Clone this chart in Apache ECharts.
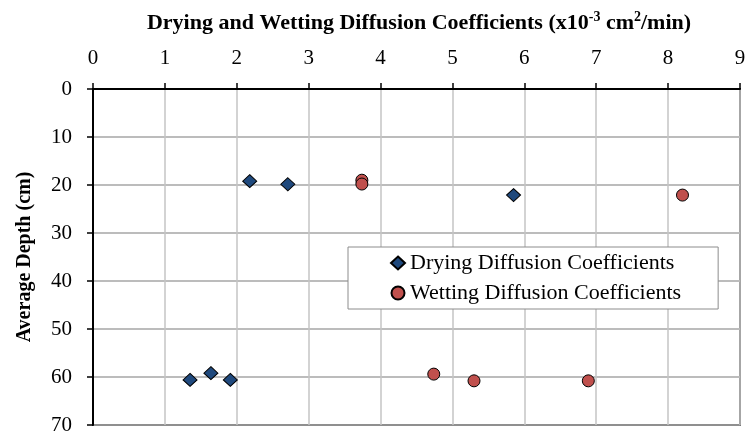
<!DOCTYPE html>
<html>
<head>
<meta charset="utf-8">
<script src="https://cdn.jsdelivr.net/npm/echarts@6/dist/echarts.min.js"></script>
<style>html,body{margin:0;padding:0;background:#fff}#c{width:752px;height:438px}</style>
</head>
<body>
<div id="c"></div>
<script>
// Data
var dryingX = [2.18, 2.71, 5.85, 1.35, 1.64, 1.91];
var dryingDepth = [19.2, 19.85, 22.1, 60.6, 59.2, 60.6];
var wettingX = [3.74, 3.74, 8.2, 4.74, 5.30, 6.89];
var wettingDepth = [19.0, 19.8, 22.1, 59.4, 60.8, 60.8];
var seriesNames = ['Drying Diffusion Coefficients', 'Wetting Diffusion Coefficients'];
var xTitle = 'Drying and Wetting Diffusion Coefficients (x10';
var yTitle = 'Average Depth (cm)';

function pairs(xs, ys) { return xs.map(function (x, i) { return [x, ys[i]]; }); }

var FONT = '"Liberation Serif", "Times New Roman", serif';
var chart = echarts.init(document.getElementById('c'));
chart.setOption({
  animation: false,
  backgroundColor: '#fff',
  title: {
    text: '{b|' + xTitle + '}{s|-3}{b| cm}{s|2}{b|/min)}',
    left: 414, top: 5, textAlign: 'center',
    textStyle: {
      rich: {
        b: { fontFamily: FONT, fontWeight: 'bold', fontSize: 22, color: '#000', lineHeight: 26 },
        s: { fontFamily: FONT, fontWeight: 'bold', fontSize: 14, color: '#000', lineHeight: 16, verticalAlign: 'top' }
      }
    }
  },
  grid: { left: 93, right: 12, top: 89, bottom: 13, show: true, borderColor: '#111', borderWidth: 1.5, backgroundColor: 'transparent' },
  legend: {
    orient: 'vertical', left: 348, top: 247,
    padding: [5, 37, 5, 42], itemGap: 8, itemWidth: 14, itemHeight: 13,
    backgroundColor: '#fff', borderColor: '#8c8c8c', borderWidth: 1, borderRadius: 0,
    textStyle: { fontFamily: FONT, fontSize: 22, color: '#000' },
    data: seriesNames
  },
  xAxis: {
    type: 'value', position: 'top', min: 0, max: 9, interval: 1,
    axisLine: { show: true, lineStyle: { color: '#000', width: 2 } },
    axisTick: { show: true, inside: false, length: 6, lineStyle: { color: '#000', width: 1.5 } },
    axisLabel: { fontFamily: FONT, fontSize: 21, color: '#000', margin: 20 },
    splitLine: { show: true, lineStyle: { color: '#c4c4c4', width: 1.5 } }
  },
  yAxis: {
    type: 'value', inverse: true, min: 0, max: 70, interval: 10,
    name: yTitle, nameLocation: 'middle', nameGap: 58, nameRotate: 90,
    nameTextStyle: { fontFamily: FONT, fontWeight: 'bold', fontSize: 20, color: '#000' },
    axisLine: { show: true, lineStyle: { color: '#000', width: 2 } },
    axisTick: { show: true, inside: false, length: 6, lineStyle: { color: '#000', width: 1.5 } },
    axisLabel: { fontFamily: FONT, fontSize: 21, color: '#000', margin: 21 },
    splitLine: { show: true, lineStyle: { color: '#a6a6a6', width: 1.5 } }
  },
  series: [
    {
      name: seriesNames[0], type: 'scatter', symbol: 'diamond', symbolSize: [14, 13],
      itemStyle: { color: '#1F497D', borderColor: '#000', borderWidth: 1, opacity: 1 },
      data: pairs(dryingX, dryingDepth)
    },
    {
      name: seriesNames[1], type: 'scatter', symbol: 'circle', symbolSize: 12,
      itemStyle: { color: '#C0504D', borderColor: '#000', borderWidth: 1, opacity: 1 },
      data: pairs(wettingX, wettingDepth)
    }
  ]
});
</script>
</body>
</html>
